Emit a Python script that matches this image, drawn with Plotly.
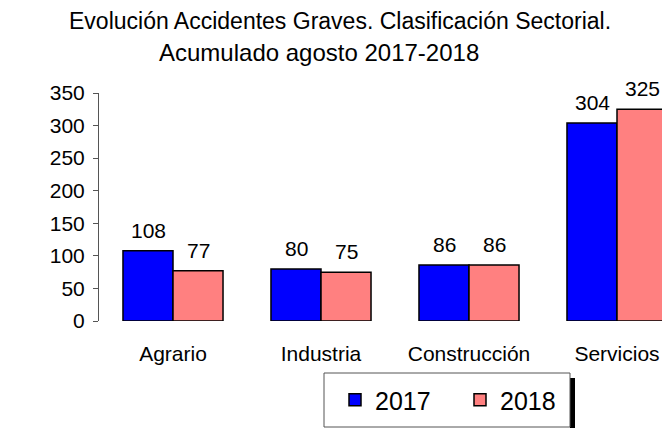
import plotly.graph_objects as go

categories = ["Agrario", "Industria", "Construcción", "Servicios"]
values_2017 = [108, 80, 86, 304]
values_2018 = [77, 75, 86, 325]
series_names = ["2017", "2018"]
y_ticks = [0, 50, 100, 150, 200, 250, 300, 350]
title_lines = ["Evolución Accidentes Graves. Clasificación Sectorial.",
               "Acumulado agosto 2017-2018"]

FONT = "Liberation Sans, Arial, sans-serif"
COLORS = ["#0000FF", "#FF8080"]

# the page body adds an 8px margin, so the figure is 8px smaller
W, H = 662, 420
OFF = 8
L, T, B, R = 99 - OFF, 93 - OFF, 420 - (321 - OFF), 0
pw = W - L - R
ph = H - T - B


def px(x):  # reference pixel x -> paper
    return (x - OFF - L) / pw


def py(y):  # reference pixel y -> paper
    return (H - B - (y - OFF)) / ph


fig = go.Figure()
for name, vals, col in zip(series_names, [values_2017, values_2018], COLORS):
    fig.add_trace(go.Bar(
        x=categories, y=vals, name=name,
        marker=dict(color=col, line=dict(color="black", width=1.5)),
        showlegend=True,
    ))

annotations = []
for i, vals in enumerate([values_2017, values_2018]):
    for cat, v in zip(categories, vals):
        annotations.append(dict(
            x=cat, y=v, xref="x", yref="y", text=str(v), showarrow=False,
            xanchor="center", yanchor="bottom", xshift=-25 if i == 0 else 25,
            yshift=7, font=dict(size=21, family=FONT, color="black"),
        ))

annotations.append(dict(
    x=px(340), y=py(21), xref="paper", yref="paper", text=title_lines[0],
    showarrow=False, xanchor="center", yanchor="middle",
    font=dict(size=23, family=FONT, color="black"),
))
annotations.append(dict(
    x=px(319), y=py(53), xref="paper", yref="paper", text=title_lines[1],
    showarrow=False, xanchor="center", yanchor="middle",
    font=dict(size=24, family=FONT, color="black"),
))

fig.update_layout(
    width=W, height=H,
    margin=dict(l=L, r=R, t=T, b=B, pad=0, autoexpand=False),
    paper_bgcolor="white", plot_bgcolor="white",
    font=dict(family=FONT, color="black"),
    barmode="group", bargap=0.324, bargroupgap=0,
    xaxis=dict(
        range=[-0.5, -0.5 + pw / 148.0], showline=False, ticks="",
        tickfont=dict(size=21, family=FONT), showgrid=False, zeroline=False,
        ticklabelstandoff=18,
    ),
    yaxis=dict(
        range=[0, 350], tickvals=y_ticks, showline=True, linecolor="#555555",
        linewidth=1, ticks="outside", ticklen=5, tickcolor="#555555",
        tickfont=dict(size=21, family=FONT), showgrid=False, zeroline=False,
        ticklabelstandoff=4,
    ),
    legend=dict(
        orientation="h", x=px(335), xanchor="left", y=py(400), yanchor="middle",
        borderwidth=0, bgcolor="rgba(0,0,0,0)",
        font=dict(size=25, family=FONT), entrywidth=80, itemwidth=30,
        traceorder="normal",
    ),
    annotations=annotations,
    shapes=[
        dict(type="rect", xref="paper", yref="paper",
             x0=px(570), x1=px(575), y0=py(428), y1=py(378),
             fillcolor="black", line=dict(width=0), layer="below"),
        dict(type="rect", xref="paper", yref="paper",
             x0=px(324), x1=px(570), y0=py(427), y1=py(373),
             fillcolor="white", line=dict(width=1, color="#555555"), layer="below"),
    ],
)

fig.write_html("out.html")
